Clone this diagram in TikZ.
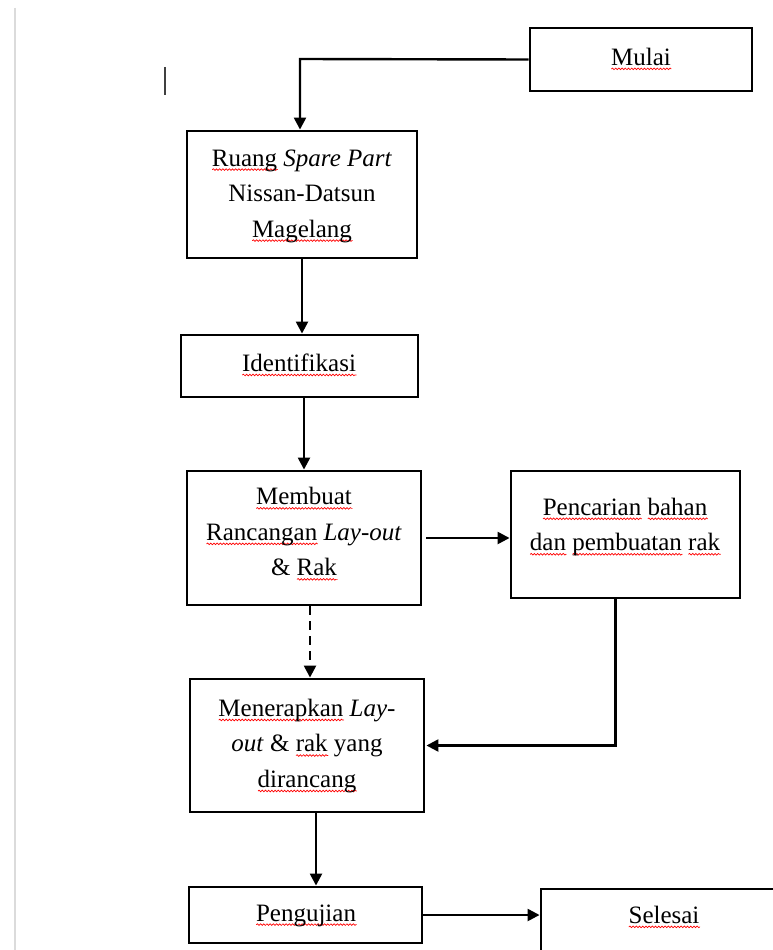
\documentclass[tikz,border=0pt]{standalone}
\usepackage{fontspec}
\setmainfont{Liberation Serif}
\usetikzlibrary{arrows.meta,decorations.pathmorphing}
\newsavebox\sqbox
\newcommand\sq[1]{\sbox\sqbox{#1}\leavevmode\rlap{\tikz[baseline=0pt,x=1pt,y=1pt]\draw[red, line width=0.7pt, line cap=round, decorate, decoration={snake, amplitude=0.8pt, segment length=3.2pt}] (0pt,-3.5pt) -- (\the\wd\sqbox,-3.5pt);}\usebox\sqbox}
\tikzset{
  box/.style={draw, line width=2.9pt, inner sep=0pt},
  txt/.style={inner sep=0pt, align=center, font=\fontsize{25}{35.5}\selectfont},
  conn/.style={line width=2.4pt, -{Triangle[length=12pt,width=12pt]}}
}
\begin{document}
\begin{tikzpicture}[x=1pt,y=-1pt]
\useasboundingbox (0,0) rectangle (773,950);
\clip (0,0) rectangle (773,950);
\fill[white] (0,0) rectangle (773,950);
% page edge and cursor
\draw[line width=2pt, black!14] (15,8) -- (15,950);
\draw[line width=1.6pt, black!75] (165,67) -- (165,95);
% boxes
\node[box, minimum width=222pt, minimum height=63pt] (mulai) at (641,59.5) {};
\node[box, minimum width=230pt, minimum height=127pt] (ruang) at (302,194.5) {};
\node[box, minimum width=237pt, minimum height=62pt] (iden) at (299.5,366) {};
\node[box, minimum width=234pt, minimum height=134pt] (buat) at (304,538) {};
\node[box, minimum width=229pt, minimum height=127pt] (cari) at (625.5,534.5) {};
\node[box, minimum width=234pt, minimum height=133pt] (terap) at (307,745.5) {};
\node[box, minimum width=233pt, minimum height=56pt] (uji) at (305.5,915) {};
\node[box, minimum width=260pt, minimum height=80pt] (selesai) at (671,929) {};
% texts
\node[txt] (tmulai) at (641,59) {\sq{Mulai}};
\node[txt] (truang) at (302,196) {\sq{Ruang} \textit{Spare Part}\\Nissan-Datsun\\\sq{Magelang}};
\node[txt] (tiden) at (299,365) {\sq{Identifikasi}};
\node[txt] (tbuat) at (304,534) {\sq{Membuat}\\\sq{Rancangan} \textit{Lay-out}\\\& \sq{Rak}};
\node[txt] (tcari) at (625,527) {\sq{Pencarian} \sq{bahan}\\\sq{dan} \sq{pembuatan} \sq{rak}};
\node[txt] (tterap) at (307,746) {\sq{Menerapkan} \textit{Lay-}\\\textit{out} \& \sq{rak} yang\\\sq{dirancang}};
\node[txt] (tuji) at (306,915.5) {\sq{Pengujian}};
\node[txt] (tselesai) at (664,917) {\sq{Selesai}};
% connectors
\coordinate (c1) at (300,59);
\draw[conn] (mulai.west) -- (c1) -- (c1 |- ruang.north);
\draw[conn] (ruang.south) -- (ruang.south |- iden.north);
\draw[conn] (iden.south -| buat.north) -- (buat.north);
\coordinate (c2) at ([xshift=4pt]buat.east);
\draw[conn] (c2) -- (c2 -| cari.west);
\draw[conn, dash pattern=on 9pt off 6pt] ([xshift=6pt]buat.south) -- ([xshift=6pt]buat.south |- terap.north);
\coordinate (c3) at ([xshift=-10pt]cari.south);
\coordinate (c4) at (c3 |- terap.east);
\draw[conn] (c3) -- (c4) -- ([xshift=1pt]terap.east);
\coordinate (c5) at ([xshift=9pt]terap.south);
\draw[conn] (c5) -- (c5 |- uji.north);
\draw[conn] (uji.east) -- (uji.east -| selesai.west);
\end{tikzpicture}
\end{document}
